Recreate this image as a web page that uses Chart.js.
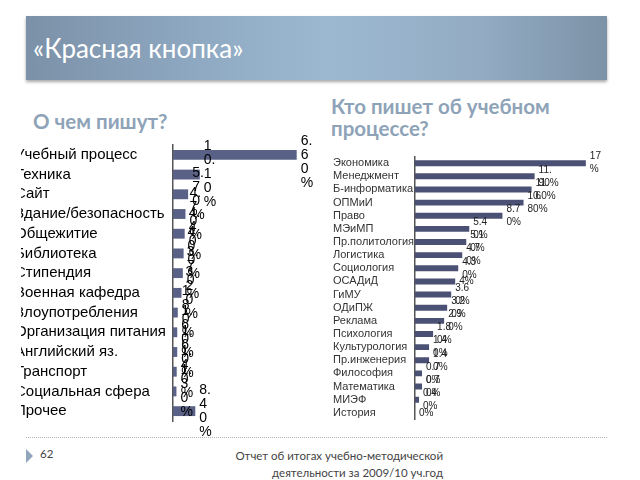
<!DOCTYPE html>
<html>
<head>
<meta charset="utf-8">
<script src="https://cdn.jsdelivr.net/npm/chart.js@4"></script>
<style>
  body { margin: 0; width: 640px; height: 480px; background: #fff; position: relative; overflow: hidden; font-family: Lato, "Open Sans", sans-serif; }
  #titleBar { position: absolute; left: 26px; top: 16px; width: 581px; height: 64px;
    background: linear-gradient(90deg, #7b91a8 0%, #8fa9c2 30%, #9cb8d1 52%, #93acc3 78%, #7c92a7 100%);
    box-shadow: 0 2px 3px rgba(0,0,0,0.35); }
  #titleBar span { position: absolute; left: 7px; top: 16px; color: #fff; font-size: 26px; }
  .sub { position: absolute; color: #8ea3b8; font-weight: bold; font-size: 20.5px; line-height: 22px; }
  #leftClip { position: absolute; left: 21px; top: 132px; width: 300px; height: 310px; overflow: hidden; }
  #leftChart { position: absolute; left: -6px; top: 0; }
  #rightChart { position: absolute; left: 333px; top: 146px; }
  #footLine { position: absolute; left: 26px; top: 437px; width: 581px; border-top: 1px dotted #b0b0b0; }
  #tri { position: absolute; left: 26px; top: 449px; width: 0; height: 0; border-top: 7px solid transparent; border-bottom: 7px solid transparent; border-left: 7px solid #8fa6bd; }
  .foot { position: absolute; color: #444; font-size: 11.5px; }
</style>
</head>
<body>
<div id="titleBar"><span>«Красная кнопка»</span></div>
<div class="sub" style="left:33px; top:110px;">О чем пишут?</div>
<div class="sub" style="left:331px; top:95px;">Кто пишет об учебном<br>процессе?</div>

<div id="leftClip"><canvas id="leftChart" width="304" height="308" style="width:304px;height:308px"></canvas></div>
<canvas id="rightChart" width="283" height="284" style="width:283px;height:284px"></canvas>

<div id="footLine"></div>
<div id="tri"></div>
<div class="foot" style="left:40px; top:447px;">62</div>
<div class="foot" style="right:197px; top:447px; text-align:right; line-height:17px;">Отчет об итогах учебно-методической<br>деятельности за 2009/10 уч.год</div>

<script>
// О чем пишут? (доля обращений, %)
const topicLabels = ['Учебный процесс', 'Техника', 'Сайт', 'Здание/безопасность', 'Общежитие', 'Библиотека',
  'Стипендия', 'Военная кафедра', 'Злоупотребления', 'Организация питания', 'Английский яз.', 'Транспорт',
  'Социальная сфера', 'Прочее'];
const topicShares = [46.6, 10.1, 5.7, 4.7, 4.4, 4.0, 3.7, 3.2, 1.8, 1.6, 1.6, 1.4, 1.3, 8.4];

// Кто пишет об учебном процессе? (%)
const deptLabels = ['Экономика', 'Менеджмент', 'Б-информатика', 'ОПМиИ', 'Право', 'МЭиМП', 'Пр.политология',
  'Логистика', 'Социология', 'ОСАДиД', 'ГиМУ', 'ОДиПЖ', 'Реклама', 'Психология', 'Культурология',
  'Пр.инженерия', 'Философия', 'Математика', 'МИЭФ', 'История'];
const deptShares = [17, 11.9, 11.6, 10.8, 8.7, 5.4, 5.1, 4.7, 4.3, 4.0, 3.6, 3.2, 2.9, 1.8, 1.4, 1.4, 0.7, 0.7, 0.4, 0];

// value labels wrapped into narrow columns like in the original slide
function makeBarText(cfg) {
  return {
    id: 'barText',
    afterDatasetsDraw(chart) {
      const ctx = chart.ctx;
      const values = chart.data.datasets[0].data;
      ctx.save();
      ctx.font = cfg.font;
      ctx.fillStyle = cfg.color;
      ctx.textBaseline = 'middle';
      ctx.textAlign = 'left';
      chart.getDatasetMeta(0).data.forEach((bar, i) => {
        const lines = cfg.split(ctx, cfg.format(values[i]));
        const top = bar.y - (lines.length - 1) * cfg.lineHeight / 2;
        lines.forEach((l, k) => ctx.fillText(l, bar.x + cfg.gap, top + k * cfg.lineHeight));
      });
      ctx.restore();
    }
  };
}

function splitChars(ctx, s) {
  const out = [];
  for (const c of s) {
    if (c === '.' && out.length) out[out.length - 1] += c;
    else out.push(c);
  }
  return out;
}

function splitTwo(ctx, s) {
  let i = 1;
  while (i < s.length && ctx.measureText(s.slice(0, i + 1)).width <= 16) i++;
  return i < s.length ? [s.slice(0, i), s.slice(i)] : [s];
}

function barOptions(max, padding, axisWidth, tickFont, tickColor) {
  return {
    indexAxis: 'y',
    responsive: false,
    animation: false,
    layout: { padding: padding },
    plugins: { legend: { display: false }, tooltip: { enabled: false } },
    scales: {
      x: { display: false, min: 0, max: max },
      y: {
        grid: { display: false, drawTicks: false },
        border: { color: '#555', width: 1.5 },
        ticks: { crossAlign: 'far', color: tickColor, font: tickFont, padding: 4, autoSkip: false },
        afterFit: scale => { scale.width = axisWidth; }
      }
    }
  };
}

new Chart(document.getElementById('leftChart'), {
  type: 'bar',
  data: {
    labels: topicLabels,
    datasets: [{ data: topicShares, backgroundColor: '#5a6187', barPercentage: 0.5, categoryPercentage: 1 }]
  },
  options: barOptions(55, { top: 9, bottom: 19, left: 0, right: 0 }, 158, { family: 'Arial', size: 15 }, '#000'),
  plugins: [makeBarText({ font: '14px Arial', color: '#000', lineHeight: 14, gap: 4,
    split: splitChars, format: v => v.toFixed(2) + '%' })]
});

new Chart(document.getElementById('rightChart'), {
  type: 'bar',
  data: {
    labels: deptLabels,
    datasets: [{ data: deptShares, backgroundColor: '#4b5175', barPercentage: 0.45, categoryPercentage: 1 }]
  },
  options: barOptions(20, { top: 10.5, bottom: 10.3, left: 0, right: 0 }, 82, { family: 'Arial', size: 11 }, '#333'),
  plugins: [makeBarText({ font: '10px Arial', color: '#222', lineHeight: 13, gap: 4,
    split: splitTwo, format: v => (Number.isInteger(v) ? v : v.toFixed(2)) + '%' })]
});
</script>
</body>
</html>
